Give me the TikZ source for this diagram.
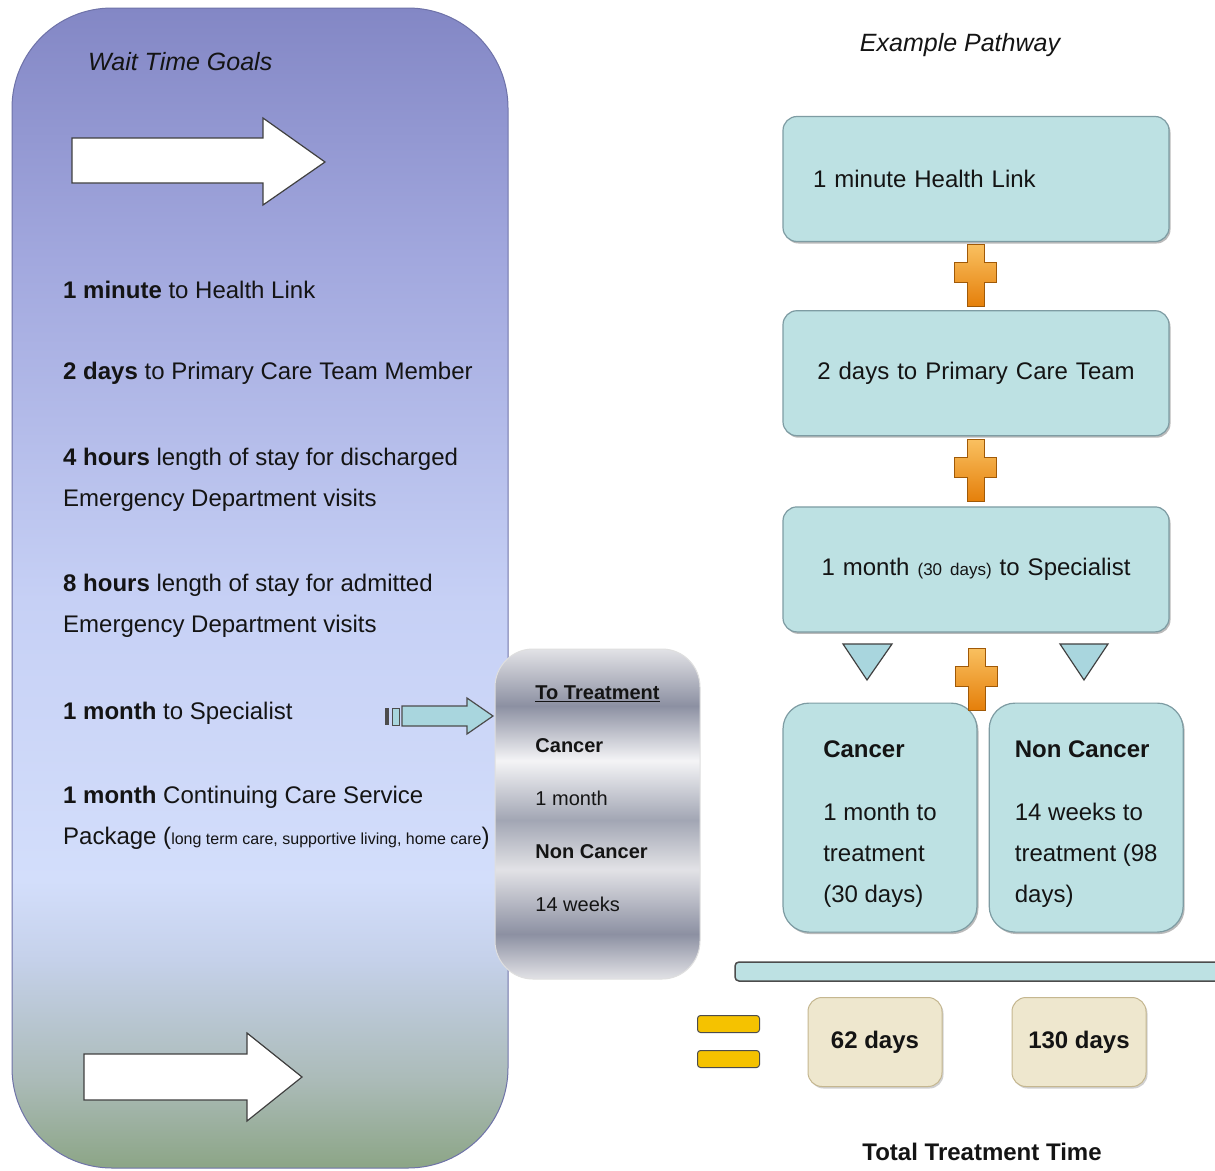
\documentclass[tikz,border=0pt]{standalone}
\usepackage{fontspec}
\setmainfont{Liberation Sans}
\usetikzlibrary{positioning,shadows}

\definecolor{inkc}{HTML}{141414}
\definecolor{gtop}{HTML}{8387C5}
\definecolor{gupper}{HTML}{A2A8DE}
\definecolor{glight}{HTML}{C6D0F5}
\definecolor{gmid}{HTML}{D3DEFB}
\definecolor{glow}{HTML}{C5D1EA}
\definecolor{gfade}{HTML}{ABBBB8}
\definecolor{gbot}{HTML}{8CA586}
\definecolor{goaledge}{HTML}{6E72A8}
\definecolor{mlight}{HTML}{F4F4F6}
\definecolor{mpale}{HTML}{E2E2E6}
\definecolor{mgray}{HTML}{A2A6B4}
\definecolor{mdark}{HTML}{8C90A2}
\definecolor{boxfill}{HTML}{BDE1E3}
\definecolor{boxedge}{HTML}{7E9CA3}
\definecolor{creamfill}{HTML}{EEE7CE}
\definecolor{tanedge}{HTML}{C5B790}
\definecolor{eqyellow}{HTML}{F5C200}
\definecolor{plustop}{HTML}{F9C060}
\definecolor{plusbot}{HTML}{E57F0A}
\definecolor{triafill}{HTML}{A9D6DE}

\pgfdeclareverticalshading{goalshade}{100bp}{color(0bp)=(gbot); color(25bp)=(gbot);
  color(28.8bp)=(gfade); color(34bp)=(glow); color(37.4bp)=(gmid); color(49.5bp)=(glight);
  color(64.1bp)=(gupper); color(75bp)=(gtop); color(100bp)=(gtop)}
\pgfdeclareverticalshading{metalshade}{100bp}{color(0bp)=(mpale); color(25bp)=(mpale);
  color(31.8bp)=(mdark); color(41.6bp)=(mpale); color(49.1bp)=(mgray); color(58.1bp)=(mlight);
  color(66.4bp)=(mdark); color(75bp)=(mpale); color(100bp)=(mpale)}

\tikzset{
  goaltext/.style={anchor=west, align=left, inner sep=0pt, text=inkc, font=\fontsize{24}{41}\selectfont},
  headtext/.style={inner sep=0pt, text=inkc, font=\itshape\fontsize{25}{30}\selectfont},
  stepbox/.style={draw=boxedge, fill=boxfill, line width=1.2pt, rounded corners=14pt,
    minimum width=386pt, minimum height=125pt, inner xsep=0pt, text width=326pt, text=inkc,
    font=\fontsize{24}{30}\selectfont,
    drop shadow={shadow xshift=1.5pt, shadow yshift=-2pt, opacity=.45, fill=black!60}},
  riskbox/.style={draw=boxedge, fill=boxfill, line width=1.2pt, rounded corners=26pt,
    minimum width=194pt, minimum height=229pt, inner sep=0pt, align=left, text=inkc,
    font=\fontsize{24}{41}\selectfont,
    drop shadow={shadow xshift=1.5pt, shadow yshift=-2pt, opacity=.45, fill=black!60}},
  totbox/.style={draw=tanedge, fill=creamfill, line width=1pt, rounded corners=14pt,
    minimum width=134pt, minimum height=89pt, text=inkc, font=\bfseries\fontsize{24}{28}\selectfont,
    drop shadow={shadow xshift=1.5pt, shadow yshift=-2pt, opacity=.3, fill=black!60}},
  eqbar/.style={draw=black!70, fill=eqyellow, line width=1pt, rounded corners=3pt,
    minimum width=62pt, minimum height=17pt, inner sep=0pt},
  whitearrow/.style={draw=black!75, fill=white, line width=1.2pt},
  plus/.style={draw=plusbot!70!black, line width=.6pt, top color=plustop, bottom color=plusbot},
  tria/.style={draw=black!75, fill=triafill, line width=1.2pt}
}

\begin{document}
\begin{tikzpicture}[x=1pt,y=-1pt]
    \useasboundingbox[fill=white] (0,0) rectangle (1215,1170);

    % left column
    \node[draw=goaledge, line width=1pt, shade, shading=goalshade, rounded corners=100pt,
      minimum width=496pt, minimum height=1160pt] (goals) at (260,588) {};
    \node[headtext, anchor=west] (goalhead) at (88,62) {Wait Time Goals};

    \draw[whitearrow] (72,138) -- (263,138) -- (263,118) -- (325,162) -- (263,205) -- (263,183) -- (72,183) -- cycle;
    \draw[whitearrow] (84,1054) -- (247,1054) -- (247,1033) -- (302,1077) -- (247,1121) -- (247,1100) -- (84,1100) -- cycle;

    \node[goaltext] (g1) at (63,290) {\textbf{1 minute} to Health Link};
    \node[goaltext] (g2) at (63,373) {\textbf{2 days} to Primary Care Team Member};
    \node[goaltext] (g3) at (63,480) {\textbf{4 hours} length of stay for discharged\\Emergency Department visits};
    \node[goaltext] (g4) at (63,606) {\textbf{8 hours} length of stay for admitted\\Emergency Department visits};
    \node[goaltext] (g5) at (63,713) {\textbf{1 month} to Specialist};
    \node[goaltext] (g6) at (63,818) {\textbf{1 month} Continuing Care Service\\Package ({\fontsize{16}{16}\selectfont long term care, supportive living, home care})};

    % treatment summary
    \node[draw=white!75!gray, line width=1pt, shade, shading=metalshade, rounded corners=38pt,
      minimum width=205pt, minimum height=330pt] (treat) at (597.5,814) {};
    \node[align=left, inner sep=0pt, text=inkc, font=\fontsize{20}{53}\selectfont]
      (treattxt) at ([yshift=15pt]treat.center)
      {\textbf{\underline{To Treatment}}\\\textbf{Cancer}\\1 month\\\textbf{Non Cancer}\\14 weeks};

    \fill[black!70] (385,708) rectangle (389,725);
    \draw[black!70, fill=triafill, line width=1pt] (392,708) rectangle (399,725);
    \draw[draw=black!70, fill=triafill, line width=1.2pt] (402,706) -- (467,706) -- (467,698) -- (493,716) -- (467,734) -- (467,726) -- (402,726) -- cycle;

    % pathway
    \node[headtext] (pathhead) at (960,45) {Example Pathway};
    \node[stepbox, align=left] (box1) at (976,179) {1 minute Health Link};
    \node[stepbox, align=center, below=68pt of box1] (box2) {2 days to Primary Care Team};
    \node[stepbox, align=center, below=70pt of box2] (box3) {1 month {\fontsize{17}{20}\selectfont (30 days)} to Specialist};
    \node[riskbox, below=70pt of box3.south west, anchor=north west] (cancer)
      {\rule{0pt}{29pt}\textbf{Cancer}\\[22pt]1 month to\\treatment\\(30 days)};
    \node[riskbox, right=11pt of cancer] (noncan)
      {\rule{0pt}{29pt}\textbf{Non Cancer}\\[22pt]14 weeks to\\treatment (98\\days)};

    \draw[tria] (843,644) -- (892,644) -- (867,680) -- cycle;
    \draw[tria] (1060,644) -- (1108,644) -- (1084,680) -- cycle;

    \foreach \px/\py in {975.5/275.5, 975.5/470.5, 976.5/679} {
      \path[plus] (\px-8.5,\py-31) -- (\px+8.5,\py-31) -- (\px+8.5,\py-13) -- (\px+21,\py-13)
        -- (\px+21,\py+7) -- (\px+8.5,\py+7) -- (\px+8.5,\py+31) -- (\px-8.5,\py+31)
        -- (\px-8.5,\py+7) -- (\px-21,\py+7) -- (\px-21,\py-13) -- (\px-8.5,\py-13) -- cycle;
    }

    % totals
    \node[draw=black!70, fill=boxfill, line width=1.5pt, rounded corners=4pt,
      minimum width=490pt, minimum height=19pt, inner sep=0pt] (sumbar) at (980,971.5) {};
    \node[eqbar] (eqtop) at (728.5,1024) {};
    \node[eqbar] (eqbot) at (728.5,1059) {};
    \node[totbox] (cantot) at (875,1042) {62 days};
    \node[totbox] (noncantot) at (1079,1042) {130 days};
    \node[inner sep=0pt, text=inkc, font=\bfseries\fontsize{24}{28}\selectfont] (tothead) at (982,1152) {Total Treatment Time};

\end{tikzpicture}
\end{document}
